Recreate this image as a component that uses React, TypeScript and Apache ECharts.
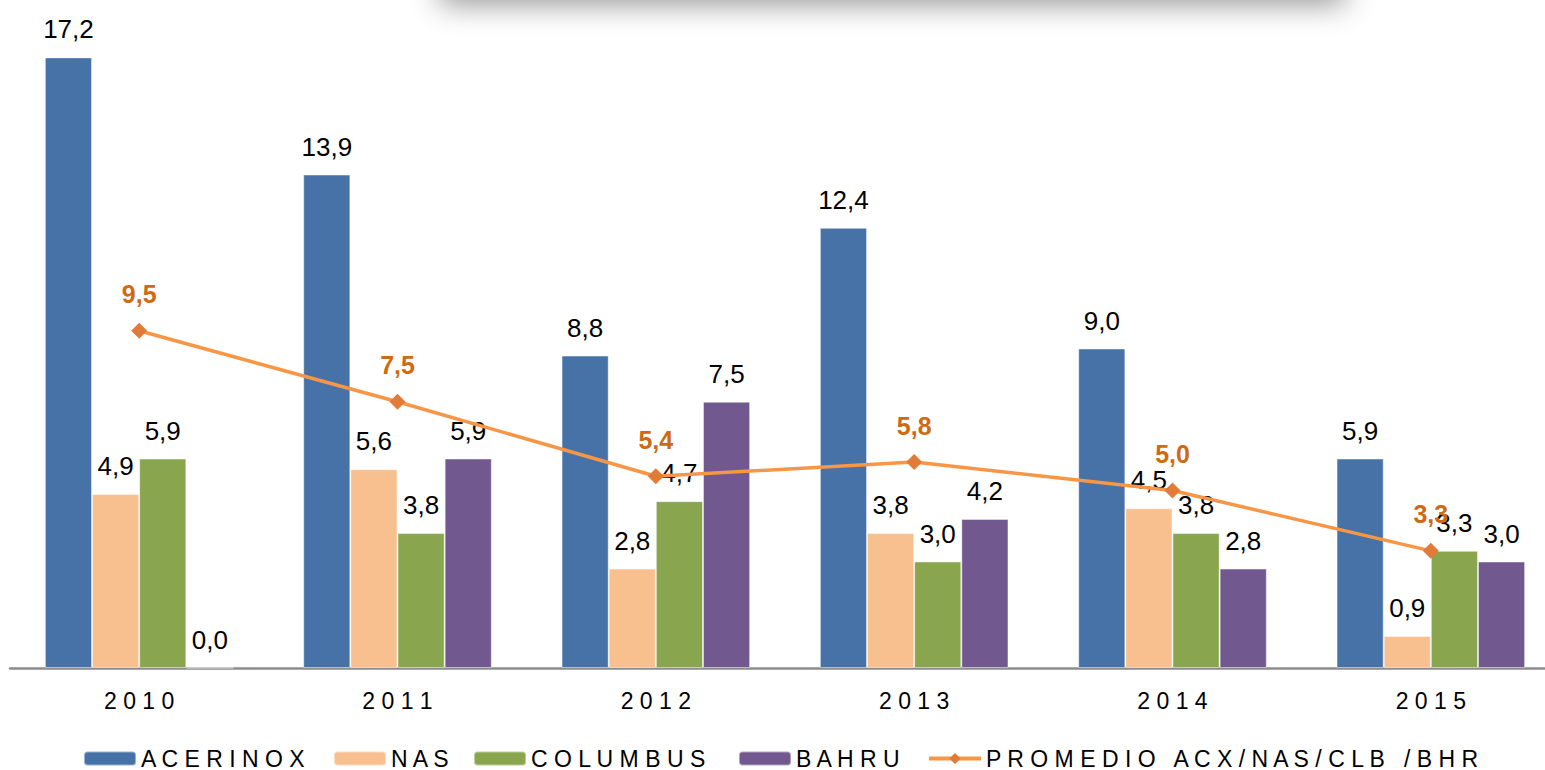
import React, { useEffect, useRef } from "react";
import * as echarts from "echarts";

const categories = ["2010", "2011", "2012", "2013", "2014", "2015"];
const acerinox = [17.2, 13.9, 8.8, 12.4, 9.0, 5.9];
const nas = [4.9, 5.6, 2.8, 3.8, 4.5, 0.9];
const columbus = [5.9, 3.8, 4.7, 3.0, 3.8, 3.3];
const bahru = [0.0, 5.9, 7.5, 4.2, 2.8, 3.0];
const promedio = [9.5, 7.5, 5.4, 5.8, 5.0, 3.3];

const seriesNames = ["ACERINOX", "NAS", "COLUMBUS", "BAHRU", "PROMEDIO ACX/NAS/CLB /BHR"];
const legendLefts = [78, 328, 468, 733, 922];

const FONT = "'Liberation Sans', Arial, sans-serif";
const spaced = (s: string) => s.split("").join(" ");
const fmt = (v: number) => v.toFixed(1).replace(".", ",");

export default function App() {
  const ref = useRef<HTMLDivElement>(null);
  useEffect(() => {
    if (!ref.current) return;
    const chart = echarts.init(ref.current, undefined, { renderer: "svg" });
    const barLabel = {
      show: true,
      position: "top" as const,
      distance: 15,
      color: "#000",
      fontSize: 26,
      fontFamily: FONT,
      formatter: (p: any) => fmt(p.value),
    };
    const bar = (name: string, data: number[], color: string) => ({
      name: spaced(name),
      type: "bar",
      data,
      barGap: "0%",
      barCategoryGap: "27%",
      itemStyle: { color, borderColor: "rgba(255,255,255,0.45)", borderWidth: 1 },
      label: barLabel,
    });
    chart.setOption({
      animation: false,
      backgroundColor: "#fff",
      graphic: [
        {
          type: "rect",
          shape: { x: 440, y: -60, width: 905, height: 60 },
          style: {
            fill: "#fff",
            shadowBlur: 30,
            shadowColor: "rgba(0,0,0,0.42)",
            shadowOffsetY: 4,
          },
          z: 100,
        },
      ],
      grid: { left: 10, right: 0, top: 29, bottom: 102, containLabel: false },
      legend: seriesNames.map((n, i) => ({
        top: 742,
        left: legendLefts[i],
        itemWidth: 52,
        itemHeight: 14,
        textStyle: { fontSize: 23, fontFamily: FONT, color: "#000" },
        ...(i === 4 ? { lineStyle: { width: 4 } } : {}),
        data: [spaced(n)],
      })),
      xAxis: {
        type: "category",
        data: categories,
        axisLine: { show: true, lineStyle: { color: "#8c8c8c", width: 2.5 } },
        axisTick: { show: false },
        axisLabel: {
          margin: 21,
          fontSize: 23,
          fontFamily: FONT,
          color: "#000",
          formatter: (v: string) => spaced(v),
        },
      },
      yAxis: {
        type: "value",
        min: 0,
        max: 18,
        show: false,
        splitLine: { show: false },
      },
      series: [
        bar(seriesNames[0], acerinox, "#4672A8"),
        bar(seriesNames[1], nas, "#F9C08F"),
        bar(seriesNames[2], columbus, "#89A54E"),
        bar(seriesNames[3], bahru, "#71588F"),
        {
          name: spaced(seriesNames[4]),
          type: "line",
          data: promedio,
          z: 5,
          symbol: "diamond",
          symbolSize: 16,
          lineStyle: { color: "#F79646", width: 3.5 },
          itemStyle: { color: "#E07B39" },
          label: {
            show: true,
            position: "top",
            distance: 16,
            color: "#D06A12",
            fontSize: 25,
            fontWeight: "bold",
            fontFamily: FONT,
            formatter: (p: any) => fmt(p.value),
          },
        },
      ],
    });
    return () => chart.dispose();
  }, []);
  return (
    <div
      style={{ position: "fixed", left: 0, top: 0, width: 1545, height: 770, overflow: "hidden" }}
    >
      <div ref={ref} style={{ width: 1560, height: 770 }} />
    </div>
  );
}
